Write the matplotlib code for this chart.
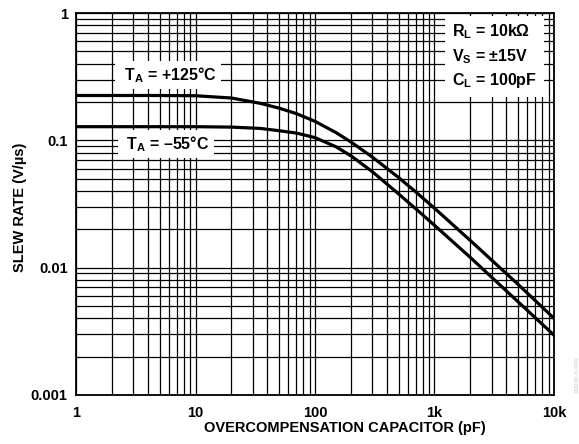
import numpy as np
import matplotlib
matplotlib.use("Agg")
import matplotlib.pyplot as plt

plt.rcParams['font.family'] = ['Liberation Sans', 'DejaVu Sans']
plt.rcParams['font.weight'] = 'bold'
plt.rcParams['mathtext.fontset'] = 'custom'
plt.rcParams['mathtext.rm'] = 'Liberation Sans:bold'
plt.rcParams['mathtext.it'] = 'Liberation Sans:bold'
plt.rcParams['mathtext.bf'] = 'Liberation Sans:bold'

# overcompensation capacitor (pF)
cap = [1, 2, 5, 10, 20, 35, 50, 70, 100, 150, 200, 300, 500, 700, 1000, 2000, 5000, 10000]
# slew rate (V/us)
sr_125 = [0.225, 0.225, 0.225, 0.224, 0.215, 0.195, 0.179, 0.162, 0.141, 0.115, 0.097,
          0.0742, 0.0511, 0.0392, 0.0293, 0.0163, 0.0074, 0.0040]
sr_m55 = [0.128, 0.128, 0.128, 0.128, 0.127, 0.124, 0.119, 0.114, 0.105, 0.089, 0.0755,
          0.057, 0.038, 0.0289, 0.0215, 0.0120, 0.0054, 0.00295]

xticks = [1, 10, 100, 1000, 10000]
xlabels = ['1', '10', '100', '1k', '10k']
yticks = [0.001, 0.01, 0.1, 1]
ylabels = ['0.001', '0.01', '0.1', '1']

fig = plt.figure(figsize=(5.79, 4.44), dpi=100)
ax = fig.add_axes([0.1313, 0.1104, 0.8255, 0.8603])

ax.plot(cap, sr_125, color='black', lw=2.3, zorder=3)
ax.plot(cap, sr_m55, color='black', lw=2.3, zorder=3)

ax.set_xscale('log')
ax.set_yscale('log')
ax.set_xlim(1, 10000)
ax.set_ylim(0.001, 1)
ax.grid(which='both', color='black', lw=0.9)
ax.set_axisbelow(True)
ax.set_xticks(xticks)
ax.set_xticklabels(xlabels)
ax.set_yticks(yticks)
ax.set_yticklabels(ylabels)
ax.tick_params(which='both', length=0, labelsize=10.5)
ax.tick_params(axis='x', pad=8)
ax.tick_params(axis='y', pad=6)
for s in ax.spines.values():
    s.set_linewidth(1.3)

ax.set_xlabel('OVERCOMPENSATION CAPACITOR (pF)', fontsize=10.5, fontweight='bold')
ax.set_ylabel('SLEW RATE (V/µs)', fontsize=10.5, fontweight='bold')
ax.xaxis.set_label_coords(0.563, -0.068)
ax.yaxis.set_label_coords(-0.1025, 0.492)

box = dict(facecolor='white', edgecolor='none', pad=3)
ax.text(5.9, 0.326, r' T$_\mathrm{A}$ = +125°C ', fontsize=11.5, ha='center', va='center',
        bbox=box, zorder=4)
ax.text(5.66, 0.0935, r' T$_\mathrm{A}$ = –55°C ', fontsize=11.5, ha='center', va='center',
        bbox=box, zorder=4)
ax.text(0.787, 0.975, 'R$_\\mathrm{L}$ = 10kΩ\nV$_\\mathrm{S}$ = ±15V\nC$_\\mathrm{L}$ = 100pF',
        transform=ax.transAxes, fontsize=11.5, ha='left', va='top', linespacing=1.4,
        bbox=dict(facecolor='white', edgecolor='none', pad=5), zorder=4)

fig.text(0.993, 0.12, '00000-0-009', rotation=90, fontsize=4.5, color='#c8c8c8',
         fontweight='normal')

fig.savefig('out.png', dpi=100)
